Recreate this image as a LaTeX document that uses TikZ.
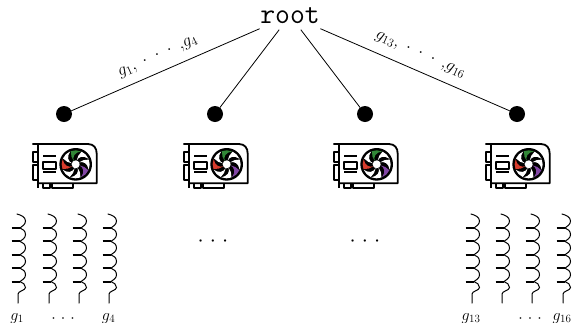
\documentclass[tikz,border=0pt]{standalone}
\usepackage{amsmath}
\usetikzlibrary{calc}
\newcommand\wdots[1]{{\cdot}\mkern#1mu{\cdot}\mkern#1mu{\cdot}}
\definecolor{fangreen}{RGB}{50,135,55}
\definecolor{fanred}{RGB}{215,60,45}
\definecolor{fanpurple}{RGB}{130,70,165}
\tikzset{
  x=1pt,y=-1pt,
  dot/.style={circle,fill=black,inner sep=0pt,minimum size=16pt,outer sep=0pt},
  rootnode/.style={inner sep=0pt,outer sep=0pt,minimum width=52.4pt,minimum height=24.5pt,scale=1.16,font=\Huge\ttfamily},
  edgeline/.style={draw=black,line width=0.8pt},
  edgelabel/.style={inner sep=0pt,font=\LARGE},
  leaflabel/.style={inner sep=0pt,scale=0.926,font=\LARGE},
  gap/.style={inner sep=0pt,scale=1.06,font=\huge},
  gpuline/.style={line width=1.8pt,line join=round},
  pics/gpu/.style={code={
    \begin{scope}[x=0.3333pt,y=0.3333pt]
      \draw[gpuline] (-95,63) -- (-77,63) -- (72,63) .. controls (90,63) and (98,50) .. (98,35) -- (98,-55) -- (-77,-55);
      \draw[gpuline] (-77,63) -- (-77,-70);
      \draw[gpuline] (-77,38) -- (-92,38) -- (-92,10) -- (-77,10);
      \draw[gpuline] (-77,0) -- (-92,0) -- (-92,-45) -- (-77,-45);
      \draw[gpuline] (-62,-55) -- (-62,-68) -- (-42,-68) -- (-42,-55);
      \draw[gpuline] (-36,-55) -- (-36,-68) -- (28,-68) -- (28,-55);
      \draw[gpuline] (-62,27) -- (-24,27);
      \draw[gpuline] (-62,8) rectangle (-24,-12);
      \draw[gpuline] (-62,-22) -- (-24,-22);
      \begin{scope}[shift={(35,2)}]
        \fill[black] (0,0) circle (49);
        \foreach \a/\c in {30/white,75/white,120/fangreen,165/white,210/fanred,255/white,300/white,345/fanpurple}{
          \fill[\c,rotate=\a] (0:11) .. controls (-4:24) and (-24:36) .. (-52:42)
             arc[start angle=-52,end angle=-10,radius=42]
             .. controls (-4:32) and (6:22) .. (0:11) -- cycle;
        }
        \fill[white] (0,0) circle (12);
      \end{scope}
    \end{scope}
  }},
  coilline/.style={line width=1pt,line cap=round},
  cotick/.style={line width=2pt},
  pics/coil/.style={code={
    \draw[coilline] (-1,-89) .. controls (3,-88) and (7.5,-86) .. (7.5,-82)
      .. controls (7.5,-78.5) and (4,-76.5) .. (2,-75);
    \foreach \i in {0,1,2,3}{
      \draw[coilline] ($(2,-75)+(0,\i*13.4)$) .. controls ($(5,-74)+(0,\i*13.4)$) and ($(7.5,-72)+(0,\i*13.4)$) .. ($(7.5,-68.3)+(0,\i*13.4)$)
        .. controls ($(7.5,-65)+(0,\i*13.4)$) and ($(4,-63)+(0,\i*13.4)$) .. ($(2,-61.6)+(0,\i*13.4)$);
    }
    \draw[coilline] (2,-21.4) .. controls (5,-20.4) and (7.5,-18.5) .. (7.5,-15.5)
      .. controls (7.5,-12.5) and (0,-12) .. (0,-9) -- (0,0);
    \foreach \i in {0,1,2,3,4}{
      \draw[cotick] ($(-6.5,-75)+(0,\i*13.4)$) -- ($(2,-75)+(0,\i*13.4)$);
    }
  }}
}
\begin{document}
\begin{tikzpicture}
  \useasboundingbox (0,0) rectangle (575,322);
  \node[rootnode] (root) at (290,15.5) {root};
  \node[dot] (d1) at (64,114) {};
  \node[dot] (d2) at (215,114) {};
  \node[dot] (d3) at (365,114) {};
  \node[dot] (d4) at (517,114) {};
  \draw[edgeline] (root) -- (d1);
  \draw[edgeline] (root) -- (d2);
  \draw[edgeline] (root) -- (d3);
  \draw[edgeline] (root) -- (d4);
  \node[edgelabel,rotate=24] (l1) at (158,57) {$g_1,\;\wdots{9}\;\,{,}g_4$};
  \node[edgelabel,rotate=-24] (l2) at (420,55) {$g_{13},\;\wdots{9}\;\,{,}g_{16}$};
  \foreach \x in {64,215,365,517}{ \pic at (\x,165) {gpu}; }
  \foreach \x in {18,49,79,109,472,502,532,563}{ \pic at (\x,303) {coil}; }
  \node[gap] (g1) at (213,241.7) {$\wdots{5}$};
  \node[gap] (g2) at (365,241.7) {$\wdots{5}$};
  \node[leaflabel,anchor=base] (a1) at (17,320) {$g_1$};
  \node[leaflabel,anchor=base] (a2) at (63,322) {$\wdots{5.7}$};
  \node[leaflabel,anchor=base] (a3) at (108.5,320) {$g_4$};
  \node[leaflabel,anchor=base] (b1) at (471,320) {$g_{13}$};
  \node[leaflabel,anchor=base] (b2) at (530,322) {$\wdots{5.7}$};
  \node[leaflabel,anchor=base] (b3) at (562,320) {$g_{16}$};
\end{tikzpicture}
\end{document}
